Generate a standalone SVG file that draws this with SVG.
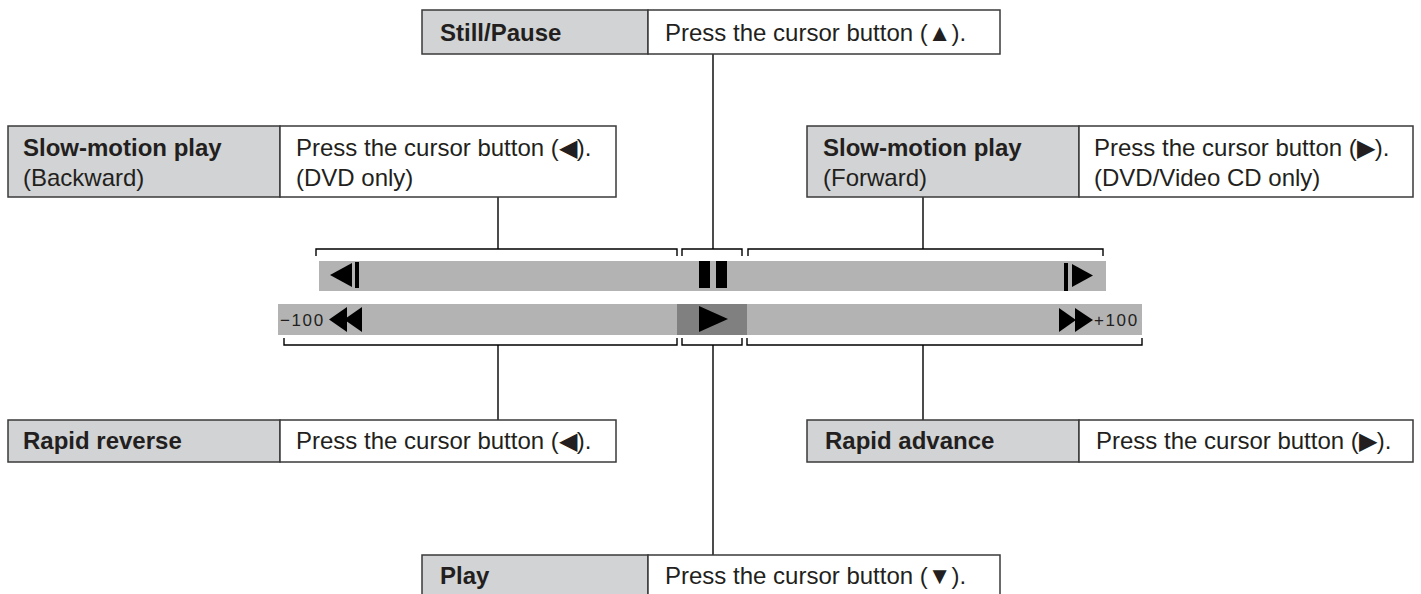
<svg xmlns="http://www.w3.org/2000/svg" width="1421" height="594" viewBox="0 0 1421 594">
<style>
.lbl{fill:#d1d3d4;stroke:#3a3a3a;stroke-width:1.5}
.dsc{fill:#ffffff;stroke:#3a3a3a;stroke-width:1.5}
.b{font-family:"Liberation Sans",Arial,sans-serif;font-weight:bold;font-size:24px;fill:#231f20}
.t{font-family:"Liberation Sans",Arial,sans-serif;font-size:24px;fill:#231f20}
.n{font-family:"Liberation Sans",Arial,sans-serif;font-size:17px;letter-spacing:1.6px;fill:#231f20}
.ln{stroke:#000;stroke-width:1.4;fill:none}
.sym{fill:#000}
</style>
<rect width="1421" height="594" fill="#fff"/>
<g id="connectors">
<path class="ln" d="M713,54V249M498,197V249M923,197V249M498,345V420M923,345V420M713,345V555"/>
<path class="ln" d="M316,256V249H677V256M682,256V249H742V256M748,256V249H1103V256"/>
<path class="ln" d="M284,338V345H677V338M682,338V345H742V338M747,338V345H1142V338"/>
</g>
<g id="bars">
<rect x="319" y="261" width="787" height="30" fill="#b3b3b3"/>
<rect x="278" y="304" width="864" height="31" fill="#b3b3b3"/>
<rect x="677" y="304" width="70" height="31" fill="#808080"/>
<polygon class="sym" points="330,275 352,263 352,287"/>
<rect class="sym" x="355" y="262" width="4" height="26"/>
<rect class="sym" x="699" y="261" width="11" height="27"/>
<rect class="sym" x="716" y="261" width="11" height="27"/>
<rect class="sym" x="1064" y="263" width="4" height="28"/>
<polygon class="sym" points="1072,264 1072,287 1093,275.5"/>
<polygon class="sym" points="699,306 699,332 728,319"/>
<polygon class="sym" points="329,319.5 347,307 347,332"/>
<polygon class="sym" points="344,319.5 362,307 362,332"/>
<polygon class="sym" points="1059,308 1059,332 1076,320"/>
<polygon class="sym" points="1075,308 1075,332 1093,320"/>
<text class="n" x="280" y="326">−100</text>
<text class="n" x="1094" y="326">+100</text>
</g>
<g id="still-pause">
<rect class="lbl" x="422" y="10" width="226" height="44"/>
<rect class="dsc" x="648" y="10" width="352" height="44"/>
<text class="b" x="440" y="41">Still/Pause</text>
<text class="t" x="665" y="41">Press the cursor button (▲).</text>
</g>
<g id="slow-backward">
<rect class="lbl" x="8" y="126" width="272" height="71"/>
<rect class="dsc" x="280" y="126" width="336" height="71"/>
<text class="b" x="23" y="156">Slow-motion play</text>
<text class="t" x="23" y="186">(Backward)</text>
<text class="t" x="296" y="156">Press the cursor button (◀).</text>
<text class="t" x="296" y="186">(DVD only)</text>
</g>
<g id="slow-forward">
<rect class="lbl" x="807" y="126" width="272" height="71"/>
<rect class="dsc" x="1079" y="126" width="334" height="71"/>
<text class="b" x="823" y="156">Slow-motion play</text>
<text class="t" x="823" y="186">(Forward)</text>
<text class="t" x="1094" y="156">Press the cursor button (▶).</text>
<text class="t" x="1094" y="186">(DVD/Video CD only)</text>
</g>
<g id="rapid-reverse">
<rect class="lbl" x="8" y="420" width="272" height="42"/>
<rect class="dsc" x="280" y="420" width="336" height="42"/>
<text class="b" x="23" y="449">Rapid reverse</text>
<text class="t" x="296" y="449">Press the cursor button (◀).</text>
</g>
<g id="rapid-advance">
<rect class="lbl" x="807" y="420" width="272" height="42"/>
<rect class="dsc" x="1079" y="420" width="334" height="42"/>
<text class="b" x="825" y="449">Rapid advance</text>
<text class="t" x="1096" y="449">Press the cursor button (▶).</text>
</g>
<g id="play">
<rect class="lbl" x="422" y="555" width="226" height="50"/>
<rect class="dsc" x="648" y="555" width="352" height="50"/>
<text class="b" x="440" y="584">Play</text>
<text class="t" x="665" y="584">Press the cursor button (▼).</text>
</g>
</svg>
